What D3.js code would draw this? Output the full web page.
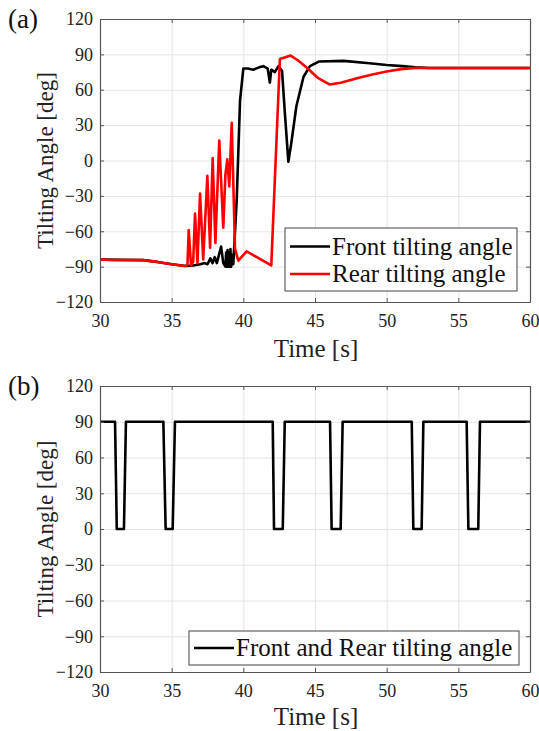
<!DOCTYPE html>
<html>
<head>
<meta charset="utf-8">
<script src="https://cdn.jsdelivr.net/npm/d3@7"></script>
<style>
  body { margin: 0; background: #fff; }
  svg { display: block; font-family: "Liberation Serif", "Times New Roman", serif; }
</style>
</head>
<body>
<div id="chart"></div>
<script>

// ---------------- data ----------------
// tick values (same for both panels)
var x_ticks   = [30, 35, 40, 45, 50, 55, 60];
var y_ticks   = [-120, -90, -60, -30, 0, 30, 60, 90, 120];

// (a) front tilting angle [time s, angle deg]
var front_time  = [30, 33, 34, 35, 36, 36.5, 37, 37.3, 37.5, 37.7, 37.85, 38, 38.15, 38.45, 38.6,
                   38.75, 38.8, 38.85, 38.9, 38.95, 39, 39.05, 39.1, 39.15, 39.2, 39.3, 39.54, 39.77, 40,
                   40.3, 40.7, 41.1, 41.4, 41.7, 41.85, 41.95, 42.2, 42.45, 42.7, 42.9, 43.14, 43.35,
                   43.7, 44.2, 44.65, 45.3, 47, 48.8, 50, 51.1, 52, 53, 60];
var front_angle = [-84, -84.5, -86, -88, -89.5, -89, -88, -87, -88, -83, -87, -82, -87, -73, -87,
                   -90, -78, -90, -76, -90, -78, -90, -75, -90, -80, -88, -33, 51, 78,
                   78, 77, 79, 80, 78, 66, 77, 75, 80, 76, 40, -1, 15,
                   46, 71, 80, 84, 84.5, 82.5, 81, 80, 79, 78.5, 78.5];

// (a) rear tilting angle
var rear_time  = [30, 31, 33, 34, 35, 35.9, 36.1, 36.19, 36.35, 36.5, 36.63, 36.8, 36.98, 37.2,
                  37.49, 37.68, 37.86, 38.05, 38.32, 38.6, 38.75, 38.88, 39.02, 39.19, 39.42, 39.65,
                  40.23, 41.95, 42.55, 43.3, 43.8, 44.5, 45.2, 46, 46.8, 48, 49, 50, 51, 52, 55, 60];
var rear_angle = [-84, -84.5, -84.5, -86, -88, -89.5, -89, -59, -89, -86, -45, -87, -28, -84,
                  -13, -74, 2, -70, 17, -57, -12, 1, -22, 32, -75, -85,
                  -77, -89, 86, 89, 85, 78, 70, 64.5, 66, 70, 73, 75.5, 77.5, 78.5, 78.5, 78.5];

// (b) front and rear tilting angle (square pulses)
var both_time  = [30, 31.05, 31.17, 31.67, 31.81, 34.42, 34.58, 35.07, 35.23,
                  42.05, 42.14, 42.75, 42.89, 46.05, 46.16, 46.79, 46.93,
                  51.75, 51.86, 52.44, 52.56, 55.58, 55.7, 56.39, 56.51, 60];
var both_angle = [90, 90, 0, 0, 90, 90, 0, 0, 90,
                  90, 0, 0, 90, 90, 0, 0, 90,
                  90, 0, 0, 90, 90, 0, 0, 90, 90];

// ---------------- chart ----------------
var chart_width  = 539;
var chart_height = 731;
var serif = "'Liberation Serif', 'Times New Roman', serif";

var svg = d3.select("#chart")
	.append("svg")
	.attr("width", chart_width)
	.attr("height", chart_height);

function zip(t, v) {
	return t.map(function(d, i) { return [d, v[i]]; });
}

function drawPanel(opts) {
	var x_scale = d3.scaleLinear().domain([30, 60]).range([opts.left, opts.right]);
	var y_scale = d3.scaleLinear().domain([-120, 120]).range([opts.bottom, opts.top]);
	var g = svg.append("g");

	// grid
	g.append("g")
		.attr("transform", "translate(0," + opts.bottom + ")")
		.call(d3.axisBottom(x_scale).tickValues(x_ticks).tickSize(-(opts.bottom - opts.top)).tickFormat(""))
		.call(function(s) {
			s.select(".domain").remove();
			s.selectAll("line").attr("stroke", "#e4e4e4").attr("stroke-width", 1);
		});
	g.append("g")
		.attr("transform", "translate(" + opts.left + ",0)")
		.call(d3.axisLeft(y_scale).tickValues(y_ticks).tickSize(-(opts.right - opts.left)).tickFormat(""))
		.call(function(s) {
			s.select(".domain").remove();
			s.selectAll("line").attr("stroke", "#e4e4e4").attr("stroke-width", 1);
		});

	// data lines
	var line = d3.line()
		.x(function(d) { return x_scale(d[0]); })
		.y(function(d) { return y_scale(d[1]); });

	opts.series.forEach(function(s) {
		g.append("path")
			.datum(zip(s.t, s.v))
			.attr("fill", "none")
			.attr("stroke", s.color)
			.attr("stroke-width", 2.6)
			.attr("stroke-linejoin", "round")
			.attr("d", line);
	});

	// axes (ticks inward on all sides, MATLAB style box)
	var axis_color = "#555";
	function styleAxis(s) {
		s.attr("font-family", serif).attr("font-size", 18);
		s.select(".domain").attr("stroke", axis_color).attr("stroke-width", 1.2);
		s.selectAll(".tick line").attr("stroke", axis_color);
		s.selectAll(".tick text").attr("fill", "#222")
			.style("font-family", serif).style("font-size", "18px");
	}
	g.append("g")
		.attr("transform", "translate(0," + opts.bottom + ")")
		.call(d3.axisBottom(x_scale).tickValues(x_ticks).tickSizeInner(-4).tickSizeOuter(0).tickPadding(12))
		.call(styleAxis);
	g.append("g")
		.attr("transform", "translate(0," + opts.top + ")")
		.call(d3.axisTop(x_scale).tickValues(x_ticks).tickSizeInner(-4).tickSizeOuter(0).tickFormat(""))
		.call(styleAxis);
	g.append("g")
		.attr("transform", "translate(" + opts.left + ",0)")
		.call(d3.axisLeft(y_scale).tickValues(y_ticks).tickSizeInner(-4).tickSizeOuter(0).tickPadding(7))
		.call(styleAxis);
	g.append("g")
		.attr("transform", "translate(" + opts.right + ",0)")
		.call(d3.axisRight(y_scale).tickValues(y_ticks).tickSizeInner(-4).tickSizeOuter(0).tickFormat(""))
		.call(styleAxis);

	// labels
	g.append("text")
		.attr("x", (opts.left + opts.right) / 2 + 1)
		.attr("y", opts.bottom + opts.xlab)
		.attr("text-anchor", "middle")
		.attr("font-size", 25)
		.attr("fill", "#222")
		.text("Time [s]");
	g.append("text")
		.attr("transform", "translate(53," + ((opts.top + opts.bottom) / 2) + ") rotate(-90)")
		.attr("text-anchor", "middle")
		.attr("font-size", 23)
		.attr("fill", "#222")
		.text("Tilting Angle [deg]");
	g.append("text")
		.attr("x", 8)
		.attr("y", opts.top + 9)
		.attr("font-size", 27)
		.attr("fill", "#111")
		.text(opts.tag);

	// legend
	var L = opts.legend;
	var lg = g.append("g").attr("transform", "translate(" + L.x + "," + L.y + ")");
	lg.append("rect")
		.attr("width", L.w)
		.attr("height", L.h)
		.attr("fill", "#fff")
		.attr("stroke", "#444")
		.attr("stroke-width", 1);
	opts.series.forEach(function(s, i) {
		var cy = L.row0 + i * L.step;
		lg.append("line")
			.attr("x1", 5).attr("x2", 45)
			.attr("y1", cy).attr("y2", cy)
			.attr("stroke", s.color)
			.attr("stroke-width", 2.6);
		lg.append("text")
			.attr("x", 47)
			.attr("y", cy)
			.attr("dy", "0.33em")
			.attr("font-size", L.fs)
			.attr("fill", "#111")
			.text(s.name);
	});
}

drawPanel({
	tag: "(a)",
	left: 100, right: 530, top: 19, bottom: 302,
	xlab: 55,
	series: [
		{ name: "Front tilting angle", t: front_time, v: front_angle, color: "#000" },
		{ name: "Rear tilting angle",  t: rear_time,  v: rear_angle,  color: "#f00" }
	],
	legend: { x: 285, y: 228, w: 232, h: 63, row0: 18.5, step: 27.5, fs: 25 }
});

drawPanel({
	tag: "(b)",
	left: 100, right: 530, top: 386, bottom: 672,
	xlab: 53,
	series: [
		{ name: "Front and Rear tilting angle", t: both_time, v: both_angle, color: "#000" }
	],
	legend: { x: 189, y: 631, w: 330, h: 34, row0: 17, step: 0, fs: 25 }
});

</script>
</body>
</html>
